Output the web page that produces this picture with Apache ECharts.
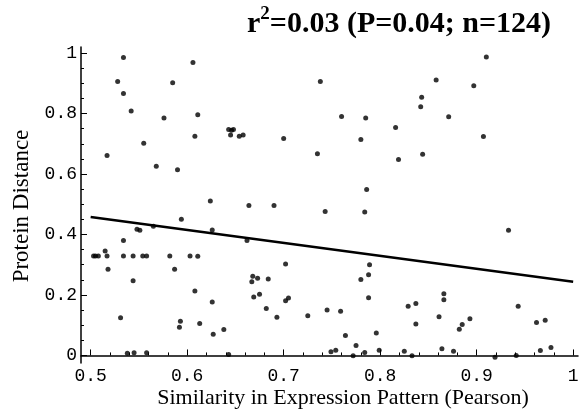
<!DOCTYPE html>
<html><head><meta charset="utf-8">
<script src="https://cdn.jsdelivr.net/npm/echarts@6/dist/echarts.min.js"></script>
<style>html,body{margin:0;padding:0;background:#fff}#c{width:586px;height:416px}</style>
</head><body><div id="c"></div>
<script>
const pointsX = [0.534,0.528,0.534,0.585,0.542,0.576,0.555,0.517,0.568,0.590,
0.594,0.548,0.551,0.565,0.534,0.515,
0.503,0.505,0.508,0.517,0.534,0.544,0.554,0.558,0.582,0.603,
0.518,0.587,0.544,0.531,0.593,0.592,0.538,0.545,0.558,
0.606,0.611,0.608,0.643,0.646,0.648,0.645,0.654,0.658,0.700,0.624,0.664,0.690,
0.626,0.662,0.611,0.702,0.668,0.667,0.673,0.684,0.608,0.675,0.669,0.705,0.702,0.626,0.682,0.693,0.725,0.613,0.638,0.627,0.643,
0.738,0.858,0.843,0.842,0.760,0.785,0.816,0.780,0.735,0.819,0.844,0.786,
0.743,0.784,0.789,0.788,0.780,0.788,0.745,0.759,0.829,0.837,0.861,0.837,0.764,0.796,0.775,0.749,0.754,0.772,0.784,0.799,0.825,0.833,
0.910,0.897,0.871,0.907,
0.933,0.866,0.866,0.943,0.893,0.885,0.882,0.962,0.971,0.864,0.876,0.919,0.941,0.966,0.977];
const pointsY = [0.985,0.906,0.866,0.902,0.808,0.785,0.702,0.661,0.626,0.614,
0.450,0.417,0.414,0.427,0.380,0.345,
0.329,0.329,0.329,0.329,0.329,0.329,0.329,0.329,0.329,0.329,
0.285,0.285,0.247,0.125,0.113,0.093,0.007,0.009,0.009,
0.969,0.796,0.725,0.747,0.745,0.747,0.729,0.725,0.729,0.717,0.511,0.496,0.496,
0.415,0.380,0.328,0.302,0.262,0.244,0.255,0.253,0.213,0.202,0.193,0.190,0.181,0.177,0.155,0.126,0.131,0.106,0.086,0.070,0.003,
0.906,0.911,0.854,0.822,0.790,0.785,0.754,0.714,0.667,0.648,0.665,0.549,
0.476,0.474,0.300,0.267,0.251,0.191,0.150,0.146,0.163,0.172,0.128,0.104,0.066,0.074,0.033,0.012,0.017,-0.001,0.010,0.017,0.014,-0.001,
0.987,0.892,0.789,0.724,
0.414,0.204,0.184,0.163,0.121,0.102,0.087,0.109,0.116,0.022,0.014,-0.006,0.000,0.016,0.026];
const fitX = [0.5, 1.0];
const fitY = [0.458, 0.244];
const xMajorTicks = [0.5,0.6,0.7,0.8,0.9,1.0];
const xMinorTicks = [0.52,0.54,0.56,0.58,0.62,0.64,0.66,0.68,0.72,0.74,0.76,0.78,0.82,0.84,0.86,0.88,0.92,0.94,0.96,0.98];
const yMajorTicks = [0,0.2,0.4,0.6,0.8,1.0];
const yMinorTicks = [0.05,0.1,0.15,0.25,0.3,0.35,0.45,0.5,0.55,0.65,0.7,0.75,0.85,0.9,0.95];

const scatterData = pointsX.map((x,i)=>[x,pointsY[i]]);
const fitData = fitX.map((x,i)=>[x,fitY[i]]);
const fmt = v => (Math.abs(v)<1e-9 ? '0' : Math.abs(v-1)<1e-9 ? '1' : v.toFixed(1));
const mono = '"Liberation Mono", "DejaVu Sans Mono", monospace';
const serif = '"Liberation Serif", "DejaVu Serif", serif';

const chart = echarts.init(document.getElementById('c'), null, {renderer:'canvas'});
chart.setOption({
  animation:false,
  backgroundColor:'#fff',
  title:{
    text:'{a|r}{s|2}{a|=0.03 (P=0.04; n=124)}',
    left:242, top:0,
    textStyle:{rich:{
      a:{fontFamily:serif,fontWeight:'bold',fontSize:30,color:'#000',verticalAlign:'bottom',lineHeight:34},
      s:{fontFamily:serif,fontWeight:'bold',fontSize:19,color:'#000',verticalAlign:'top',lineHeight:34,padding:[0,0,13,0]}
    }}
  },
  grid:{left:81,right:8,top:47,bottom:53,containLabel:false},
  xAxis:[{
    type:'value',min:0.49,max:1.005,
    axisLine:{show:true,lineStyle:{color:'#000',width:1.5}},
    axisTick:{show:true,inside:true,length:6,customValues:xMajorTicks,lineStyle:{color:'#000',width:1}},
    axisLabel:{show:true,customValues:xMajorTicks,formatter:fmt,fontFamily:mono,fontSize:18,color:'#000',margin:4},
    splitLine:{show:false}
  },{
    type:'value',min:0.49,max:1.005,position:'bottom',
    axisLine:{show:false},
    axisTick:{show:true,inside:true,length:3,customValues:xMinorTicks,lineStyle:{color:'#000',width:1}},
    axisLabel:{show:false},splitLine:{show:false}
  }],
  yAxis:[{
    type:'value',min:-0.025,max:1.02,
    axisLine:{show:true,lineStyle:{color:'#000',width:1.5}},
    axisTick:{show:true,inside:true,length:6,customValues:yMajorTicks,lineStyle:{color:'#000',width:1}},
    axisLabel:{show:true,customValues:yMajorTicks,formatter:fmt,fontFamily:mono,fontSize:18,color:'#000',margin:4},
    splitLine:{show:false}
  },{
    type:'value',min:-0.025,max:1.02,position:'left',
    axisLine:{show:false},
    axisTick:{show:true,inside:true,length:3,customValues:yMinorTicks,lineStyle:{color:'#000',width:1}},
    axisLabel:{show:false},splitLine:{show:false}
  }],
  graphic:[
    {type:'text',x:343,y:398,
     style:{text:'Similarity in Expression Pattern (Pearson)',fontFamily:serif,fontSize:22,fill:'#000',
            x:0,y:0,textAlign:'center',textVerticalAlign:'middle'}},
    {type:'text',x:22,y:206,rotation:Math.PI/2,
     style:{text:'Protein Distance',fontFamily:serif,fontSize:23,fill:'#000',x:0,y:0,textAlign:'center',textVerticalAlign:'middle'}}
  ],
  series:[{
    type:'scatter',xAxisIndex:0,yAxisIndex:0,data:scatterData,symbol:'circle',symbolSize:5,
    itemStyle:{color:'#000'},silent:true
  },{
    type:'line',xAxisIndex:0,yAxisIndex:0,data:fitData,symbol:'none',
    lineStyle:{color:'#000',width:2.5},silent:true
  }]
});
</script></body></html>
